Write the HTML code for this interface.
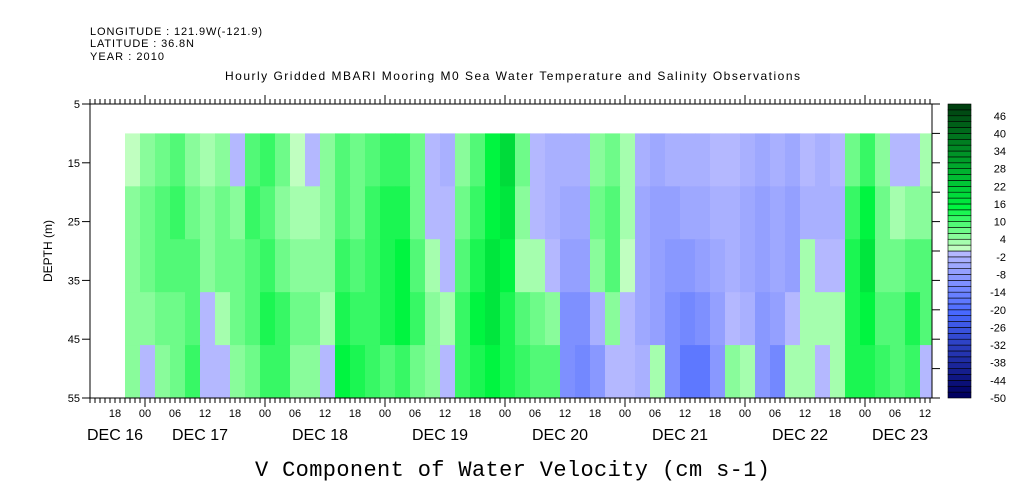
<!DOCTYPE html>
<html><head><meta charset="utf-8"><style>html,body{margin:0;padding:0;background:#fff}svg{display:block}</style></head>
<body>
<svg id="chart" width="1009" height="504" viewBox="0 0 1009 504" xmlns="http://www.w3.org/2000/svg" font-family="Liberation Sans, sans-serif">
<text x="90" y="35" font-size="11" textLength="172">LONGITUDE : 121.9W(-121.9)</text>
<text x="90" y="47" font-size="11" textLength="104">LATITUDE : 36.8N</text>
<text x="90" y="60" font-size="11" textLength="74">YEAR : 2010</text>
<text x="225" y="80" font-size="12" textLength="575">Hourly Gridded MBARI Mooring M0 Sea Water Temperature and Salinity Observations</text>
<g id="cells"></g>
<g id="axes"></g>
<g id="cbar"></g>
<text transform="translate(52,251) rotate(-90)" text-anchor="middle" font-size="12">DEPTH (m)</text>
<text x="255" y="476" style="font-family:'Liberation Mono',monospace" font-size="22" textLength="515">V Component of Water Velocity (cm s-1)</text>
</svg>
<script>
// hours relative to Dec 17 00:00, one column per 3 hours starting at -4
const startHour = -4;
const stepHours = 3;
const depthBands = [10, 19, 28, 37, 46, 55];
const band1 = [1,5,6,8,4,3,5,-1,8,10,6,0,-1,4,8,6,8,10,10,6,-2,-3,4,8,14,18,6,-2,-4,-4,-4,4,6,2,-4,-6,-4,-4,-4,-2,-2,-4,-6,-4,-6,-2,-4,-2,6,10,4,-2,-1,2];
const band2 = [4,6,8,10,6,4,6,4,10,8,4,3,2,5,8,6,10,12,12,6,-2,-2,6,10,14,16,4,-1,-3,-6,-6,6,8,2,-6,-8,-8,-6,-6,-4,-4,-6,-8,-6,-8,-4,-4,-4,10,14,6,2,4,4];
const band3 = [5,6,8,8,8,5,6,6,8,10,6,5,4,4,10,8,10,12,14,8,2,-1,8,12,16,14,2,3,-1,-8,-8,4,8,1,-6,-8,-10,-10,-8,-6,-4,-6,-8,-6,-8,2,-2,-2,12,16,6,6,8,8];
const band4 = [4,5,6,6,8,-1,3,6,8,12,10,6,6,2,12,10,10,12,14,10,4,2,10,14,16,12,8,6,4,-12,-12,-4,4,-1,-6,-8,-12,-14,-12,-8,-2,-4,-10,-8,-2,3,2,2,12,14,8,8,12,8];
const band5 = [4,-1,4,6,10,-2,-1,5,6,10,10,4,4,-1,14,12,10,8,10,6,4,-1,10,12,14,12,10,8,8,-12,-14,-10,-2,-2,-4,2,-12,-18,-18,-10,4,2,-10,-14,2,2,-2,2,12,12,10,8,10,-2];
const bands = [band1, band2, band3, band4, band5];
const cbarLabels = [46,40,34,28,22,16,10,4,-2,-8,-14,-20,-26,-32,-38,-44,-50];
const depthTicks = [5,15,25,35,45,55];
const dayLabels = [["DEC 16",-6],["DEC 17",11],["DEC 18",35],["DEC 19",59],["DEC 20",83],["DEC 21",107],["DEC 22",131],["DEC 23",151]];

const NS = "http://www.w3.org/2000/svg";
const X0 = 90, X1 = 932, Y0 = 104, Y1 = 398;
const xOf = h => 145 + 5 * h;
const yOf = d => Y0 + (d - 5) * (Y1 - Y0) / 50;
const cY = v => Y1 - (v + 50) / 100 * (Y1 - Y0);
function mk(tag, a, parent) { const e = document.createElementNS(NS, tag); for (const k in a) e.setAttribute(k, a[k]); parent.appendChild(e); return e; }
function colorFor(v) {
  let b = Math.floor(v / 2); b = Math.max(-25, Math.min(24, b));
  if (b >= 0) {
    if (b <= 7) { const t = b / 7; return `rgb(${Math.round(192 - 192 * t)},${Math.round(255 - 10 * t)},${Math.round(192 - 128 * t)})`; }
    const t = (b - 7) / 17; return `rgb(0,${Math.round(240 - 176 * t)},${Math.round(64 - 48 * t)})`;
  } else {
    const k = -b - 1;
    if (k <= 10) { const t = k / 10; return `rgb(${Math.round(180 - 108 * t)},${Math.round(184 - 80 * t)},255)`; }
    const t = (k - 10) / 14; return `rgb(${Math.round(72 - 72 * t)},${Math.round(104 - 104 * t)},${Math.round(255 - 159 * t)})`;
  }
}
const cells = document.getElementById('cells');
bands.forEach((arr, j) => {
  arr.forEach((v, i) => {
    const h = startHour + i * stepHours;
    const xa = Math.max(xOf(h), X0), xb = Math.min(xOf(h + stepHours), X1);
    if (xb <= xa) return;
    const r = mk('rect', { x: xa, y: yOf(depthBands[j]), width: xb - xa + 0.5, height: yOf(depthBands[j + 1]) - yOf(depthBands[j]) + 0.5, fill: colorFor(v) }, cells);
    
    
  });
});
const ax = document.getElementById('axes');
const frame = mk('rect', { x: X0, y: Y0, width: X1 - X0, height: Y1 - Y0, fill: 'none', stroke: '#000', 'stroke-width': 1 }, ax);


for (let h = -11; h <= 157; h++) {
  const x = xOf(h); if (x < X0 || x > X1) continue;
  const major = ((h % 24) + 24) % 24 === 0;
  mk('line', { x1: x, x2: x, y1: Y1, y2: Y1 + (major ? 9 : 5), stroke: '#000' }, ax);
  mk('line', { x1: x, x2: x, y1: Y0, y2: Y0 - (major ? 9 : 5), stroke: '#000' }, ax);
  if (((h % 6) + 6) % 6 === 0) {
    const hh = ((h % 24) + 24) % 24;
    const t = mk('text', { x: x, y: 417, 'text-anchor': 'middle', 'font-size': 11 }, ax);
    t.textContent = String(hh).padStart(2, '0');
    
    
  }
}
dayLabels.forEach(([s, h]) => {
  const t = mk('text', { x: xOf(h), y: 440, 'text-anchor': 'middle', 'font-size': 16 }, ax);
  t.textContent = s;
  
  
});
for (let d = 5; d <= 55; d += 5) {
  const y = yOf(d), major = depthTicks.includes(d);
  if (major) mk('line', { x1: X0 - 8, x2: X0, y1: y, y2: y, stroke: '#000' }, ax);
  mk('line', { x1: X1, x2: X1 + 8, y1: y, y2: y, stroke: '#000' }, ax);
}
depthTicks.forEach(d => {
  const t = mk('text', { x: 80, y: yOf(d) + 4, 'text-anchor': 'end', 'font-size': 11 }, ax);
  t.textContent = d;
  
  
});
const cb = document.getElementById('cbar');
for (let v = -50; v < 50; v += 2) {
  const r = mk('rect', { x: 948, y: cY(v + 2), width: 23, height: cY(v) - cY(v + 2), fill: colorFor(v + 1), stroke: '#000', 'stroke-width': 0.6 }, cb);
  
  
}
cbarLabels.forEach(v => {
  const t = mk('text', { x: 1006, y: cY(v) + 4, 'text-anchor': 'end', 'font-size': 11 }, cb);
  t.textContent = v;
  
  
});
</script>
</body></html>
